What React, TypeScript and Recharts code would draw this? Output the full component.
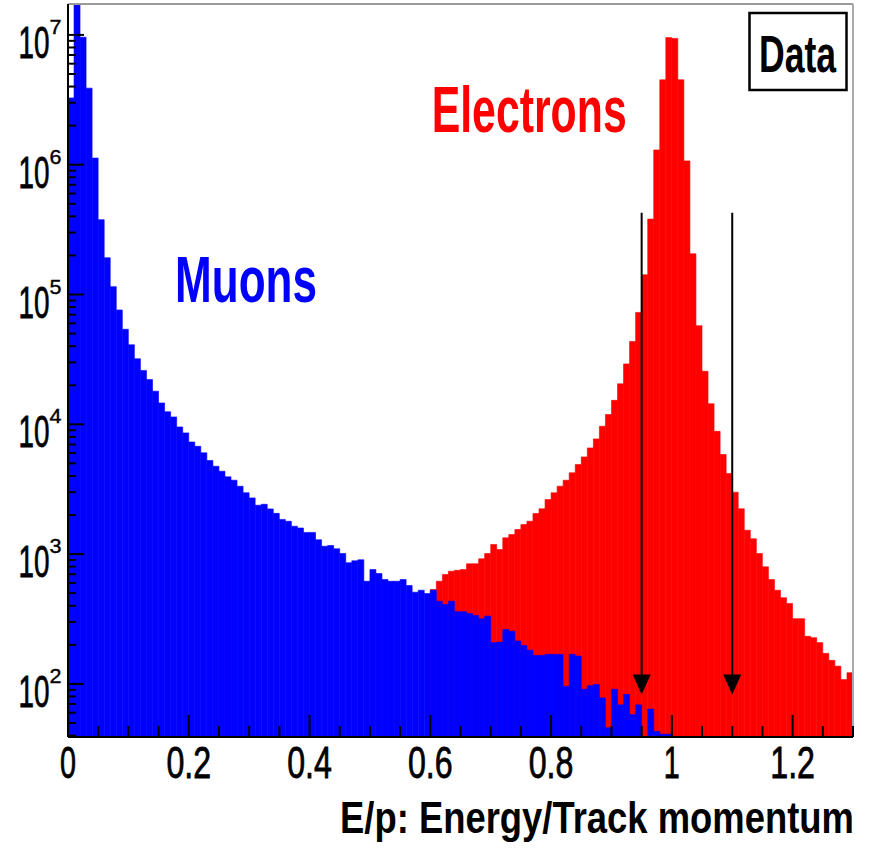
import React from 'react';
import { BarChart, Bar, XAxis, YAxis, ReferenceLine } from 'recharts';

// Histogram bin lower edges (E/p), bin width 0.01
const binEdges = [
  0.00, 0.01, 0.02, 0.03, 0.04, 0.05, 0.06, 0.07, 0.08, 0.09,
  0.10, 0.11, 0.12, 0.13, 0.14, 0.15, 0.16, 0.17, 0.18, 0.19,
  0.20, 0.21, 0.22, 0.23, 0.24, 0.25, 0.26, 0.27, 0.28, 0.29,
  0.30, 0.31, 0.32, 0.33, 0.34, 0.35, 0.36, 0.37, 0.38, 0.39,
  0.40, 0.41, 0.42, 0.43, 0.44, 0.45, 0.46, 0.47, 0.48, 0.49,
  0.50, 0.51, 0.52, 0.53, 0.54, 0.55, 0.56, 0.57, 0.58, 0.59,
  0.60, 0.61, 0.62, 0.63, 0.64, 0.65, 0.66, 0.67, 0.68, 0.69,
  0.70, 0.71, 0.72, 0.73, 0.74, 0.75, 0.76, 0.77, 0.78, 0.79,
  0.80, 0.81, 0.82, 0.83, 0.84, 0.85, 0.86, 0.87, 0.88, 0.89,
  0.90, 0.91, 0.92, 0.93, 0.94, 0.95, 0.96, 0.97, 0.98, 0.99,
  1.00, 1.01, 1.02, 1.03, 1.04, 1.05, 1.06, 1.07, 1.08, 1.09,
  1.10, 1.11, 1.12, 1.13, 1.14, 1.15, 1.16, 1.17, 1.18, 1.19,
  1.20, 1.21, 1.22, 1.23, 1.24, 1.25, 1.26, 1.27, 1.28, 1.29,
];

const muons = [
  3.27e6, 2.5e7, 9.6e6, 3.89e6, 1.125e6, 3.77e5, 1.92e5, 1.15e5, 7.6e4, 5.4e4,
  4.1e4, 3.2e4, 2.6e4, 2.21e4, 1.8e4, 1.46e4, 1.25e4, 1.14e4, 9550, 8590,
  7310, 6770, 6030, 5260, 4750, 4350, 3940, 3710, 3330, 2970,
  2710, 2380, 2420, 2230, 2060, 1850, 1790, 1640, 1590, 1470,
  1470, 1290, 1150, 1165, 1100, 1010, 858, 888, 904, 618,
  760, 709, 637, 618, 618, 637, 573, 509, 527, 497,
  527, 434, 409, 434, 360, 360, 349, 337, 318, 333,
  208, 210, 263, 255, 214, 198, 182, 166, 166, 169,
  169, 169, 96, 169, 164, 91, 97, 99, 78, 46,
  91, 69, 83, 58, 69, null, 64, 43, 41, 41,
  null, null, null, null, null, null, null, null, null, null,
  null, null, null, null, null, null, null, null, null, null,
  null, null, null, null, null, null, null, null, null, null,
];

const electrons = [
  null, null, null, null, null, null, null, null, null, null,
  null, null, null, null, null, null, null, null, null, null,
  null, null, null, null, null, null, null, null, null, null,
  null, null, null, null, null, null, null, null, null, null,
  null, null, null, null, null, null, null, null, null, null,
  null, null, null, null, null, null, null, null, null, null,
  533, 618, 697, 738, 751, 760, 842, 842, 920, 1010,
  1187, 1085, 1335, 1417, 1547, 1690, 1792, 2055, 2235, 2633,
  2965, 3333, 3710, 4228, 4898, 5612, 6580, 7720, 9660, 1.19e4,
  1.53e4, 2.05e4, 2.92e4, 4.35e4, 7.28e4, 1.42e5, 3.81e5, 1.3e6, 4.51e6, 9.53e6,
  9.4e6, 4.51e6, 1.07e6, 2.06e5, 5.75e4, 2.56e4, 1.44e4, 8830, 5850, 4170,
  3000, 2235, 1528, 1313, 1010, 798, 637, 527, 461, 417,
  318, 318, 233, 227, 208, 172, 152, 137, 108, 122,
];

const xTicks = [
  0, 0.05, 0.1, 0.15, 0.2, 0.25, 0.3, 0.35, 0.4, 0.45, 0.5, 0.55, 0.6, 0.65,
  0.7, 0.75, 0.8, 0.85, 0.9, 0.95, 1.0, 1.05, 1.1, 1.15, 1.2, 1.25, 1.3,
];

const yTicks = [
  40, 50, 60, 70, 80, 90,
  100, 200, 300, 400, 500, 600, 700, 800, 900,
  1e3, 2e3, 3e3, 4e3, 5e3, 6e3, 7e3, 8e3, 9e3,
  1e4, 2e4, 3e4, 4e4, 5e4, 6e4, 7e4, 8e4, 9e4,
  1e5, 2e5, 3e5, 4e5, 5e5, 6e5, 7e5, 8e5, 9e5,
  1e6, 2e6, 3e6, 4e6, 5e6, 6e6, 7e6, 8e6, 9e6,
  1e7,
];

const xDomain = [0, 1.3];
const yDomain = [39, 1.73e7];
const cuts = [0.95, 1.1];
const arrowTop = 4.27e5;
const arrowTip = 83;

const xTitle = 'E/p: Energy/Track momentum';
const muonLabel = 'Muons';
const electronLabel = 'Electrons';
const dataLabel = 'Data';

const BLUE = '#0000ff';
const RED = '#ff0000';
const FONT = '"Liberation Sans", Arial, Helvetica, sans-serif';

const data = binEdges.map((b, i) => ({ bin: b, muons: muons[i], electrons: electrons[i] }));

const XTick = (props: any) => {
  const { x, y, payload } = props;
  const h = Math.round(payload.value * 100);
  const major = h % 20 === 0;
  const label = String(h / 100);
  const dots = label.includes('.') ? 1 : 0;
  const digits = label.length - dots;
  return (
    <g>
      <line x1={x} x2={x} y1={y} y2={y - (major ? 22 : 11)} stroke="#000" strokeWidth={2} />
      {major && (
        <text
          x={x}
          y={y + 41}
          textAnchor="middle"
          fontFamily={FONT}
          fontSize={44}
          fill="#000"
          stroke="#000"
          strokeWidth={0.8}
          textLength={digits * 16 + dots * 12.7}
          lengthAdjust="spacingAndGlyphs"
        >
          {label}
        </text>
      )}
    </g>
  );
};

const YTick = (props: any) => {
  const { x, y, payload } = props;
  const e = Math.log10(payload.value);
  const major = Math.abs(e - Math.round(e)) < 1e-6;
  return (
    <g>
      <line x1={x} x2={x + (major ? 16 : 8)} y1={y} y2={y} stroke="#000" strokeWidth={2} />
      {major && (
        <g>
          <text
            x={x - 49.5}
            y={y + 23}
            fontFamily={FONT}
            fontSize={44}
            fill="#000"
            stroke="#000"
            strokeWidth={0.8}
            textLength={31}
            lengthAdjust="spacingAndGlyphs"
          >
            10
          </text>
          <text
            x={x - 18.5}
            y={y - 1}
            fontFamily={FONT}
            fontSize={21}
            fill="#000"
            stroke="#000"
            strokeWidth={0.4}
            textLength={12}
            lengthAdjust="spacingAndGlyphs"
          >
            {Math.round(e)}
          </text>
        </g>
      )}
    </g>
  );
};

const Arrow = (props: any) => {
  const { x1, y1, x2, y2 } = props;
  return (
    <g>
      <line x1={x1} y1={y1} x2={x2} y2={y2 - 10} stroke="#000" strokeWidth={2} />
      <polygon points={`${x2 - 9},${y2 - 20} ${x2 + 9},${y2 - 20} ${x2},${y2}`} fill="#000" />
    </g>
  );
};

export default function App() {
  return (
    <div style={{ position: 'absolute', left: 0, top: 0, width: 869, height: 849, background: '#fff' }}>
      <BarChart
        width={869}
        height={849}
        data={data}
        margin={{ top: 4, right: 16, bottom: 0, left: 0 }}
        barCategoryGap={0}
        barGap={0}
      >
        <XAxis xAxisId="e" dataKey="bin" hide height={0} />
        <XAxis xAxisId="m" dataKey="bin" hide height={0} />
        <Bar xAxisId="e" dataKey="electrons" fill={RED} stroke={RED} strokeWidth={0.6} isAnimationActive={false} />
        <Bar xAxisId="m" dataKey="muons" fill={BLUE} stroke={BLUE} strokeWidth={0.6} isAnimationActive={false} />
        <ReferenceLine xAxisId="num" y={yDomain[1]} stroke="#999" strokeWidth={2} ifOverflow="visible" />
        <ReferenceLine xAxisId="num" x={xDomain[1]} stroke="#aaa" strokeWidth={2} ifOverflow="visible" />
        {cuts.map((c) => (
          <ReferenceLine
            key={c}
            xAxisId="num"
            segment={[{ x: c, y: arrowTop }, { x: c, y: arrowTip }]}
            ifOverflow="visible"
            shape={Arrow}
          />
        ))}
        <XAxis
          xAxisId="num"
          dataKey="bin"
          type="number"
          domain={xDomain}
          allowDataOverflow
          ticks={xTicks}
          interval={0}
          tick={<XTick />}
          tickLine={false}
          tickSize={0}
          tickMargin={0}
          height={112}
          axisLine={{ stroke: '#000', strokeWidth: 2 }}
        />
        <YAxis
          type="number"
          scale="log"
          domain={yDomain}
          allowDataOverflow
          ticks={yTicks}
          interval={0}
          tick={<YTick />}
          tickLine={false}
          tickSize={0}
          tickMargin={0}
          width={68}
          axisLine={{ stroke: '#000', strokeWidth: 2 }}
        />
      </BarChart>
      <svg
        width={869}
        height={849}
        style={{ position: 'absolute', left: 0, top: 0, pointerEvents: 'none' }}
      >
        <text x={175} y={301.7} fontFamily={FONT} fontWeight="bold" fontSize={65} fill={BLUE} textLength={142} lengthAdjust="spacingAndGlyphs">
          {muonLabel}
        </text>
        <text x={431.7} y={131.7} fontFamily={FONT} fontWeight="bold" fontSize={65} fill={RED} textLength={195} lengthAdjust="spacingAndGlyphs">
          {electronLabel}
        </text>
        <rect x={749.5} y={13} width={97} height={77} fill="#fff" stroke="#000" strokeWidth={2.5} />
        <text x={759} y={72} fontFamily={FONT} fontWeight="bold" fontSize={52} fill="#000" textLength={77} lengthAdjust="spacingAndGlyphs">
          {dataLabel}
        </text>
        <text x={340} y={833} fontFamily={FONT} fontWeight="bold" fontSize={44} fill="#000" textLength={514} lengthAdjust="spacingAndGlyphs">
          {xTitle}
        </text>
      </svg>
    </div>
  );
}
